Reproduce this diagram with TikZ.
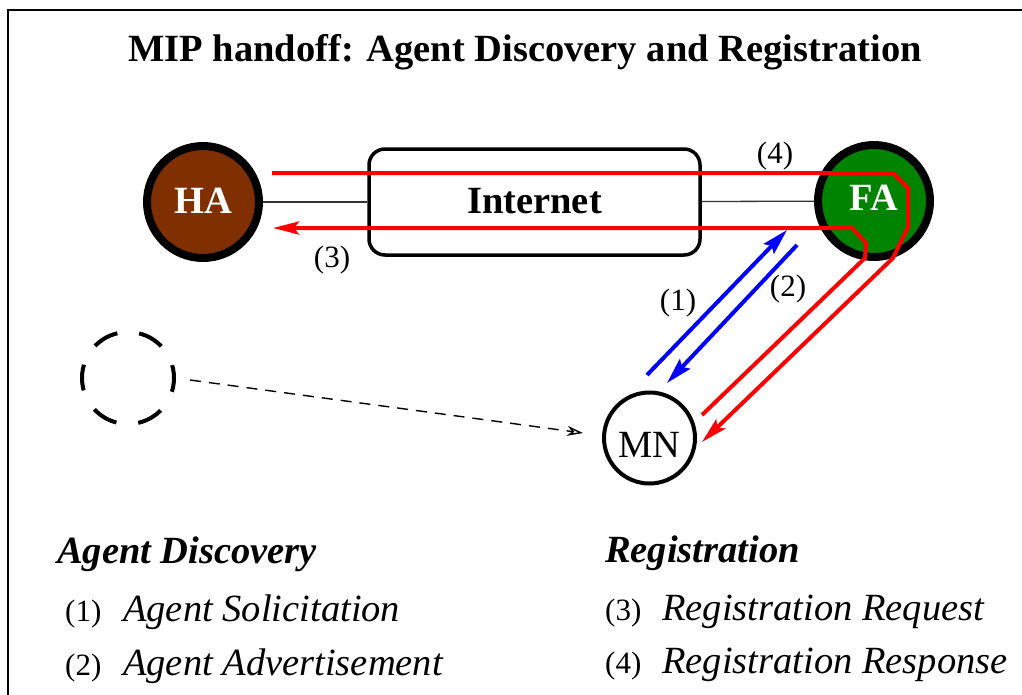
\documentclass[tikz,border=0pt]{standalone}
\usepackage{fontspec}
\setmainfont{Liberation Serif}
\usetikzlibrary{arrows.meta}
\definecolor{habrown}{RGB}{128,48,0}
\definecolor{fagreen}{RGB}{0,132,0}
\definecolor{msgred}{RGB}{255,0,0}
\definecolor{msgblue}{RGB}{0,0,255}
\newcommand{\bigsize}{\fontsize{38.5}{46}\selectfont}
\newcommand{\numsize}{\fontsize{31}{37}\selectfont}
\tikzset{
  agent/.style={circle, draw=black, line width=8pt, minimum size=112pt,
    inner sep=0pt, text=white, font=\bigsize\bfseries, text depth=0pt},
  netbox/.style={draw=black, line width=3.5pt, rounded corners=16pt,
    minimum width=331pt, minimum height=106pt, inner sep=0pt,
    font=\bigsize\bfseries, text depth=0pt},
  mobile/.style={circle, draw=black, line width=4pt, minimum size=91pt,
    inner sep=0pt, font=\bigsize, text depth=0pt},
  oldpos/.style={circle, draw=black, line width=4pt, minimum size=92pt,
    inner sep=0pt, dash pattern=on 26pt off 22pt, dash phase=13pt},
  link/.style={draw=black!80, line width=1.3pt},
  regmsg/.style={draw=msgred, line width=4pt,
    -{Stealth[length=26pt, width=13pt, inset=5pt]}},
  discmsg/.style={draw=msgblue, line width=4pt,
    -{Stealth[length=26pt, width=14pt, inset=4pt]}},
  movearrow/.style={draw=black, line width=1.4pt, dash pattern=on 11pt off 8pt,
    -{Stealth[open, length=16pt, width=10pt]}},
  msgnum/.style={anchor=base, inner sep=0pt, font=\numsize},
  heading/.style={anchor=base west, inner sep=0pt, font=\bigsize\bfseries\itshape},
  itemnum/.style={anchor=base west, inner sep=0pt, font=\numsize},
  itemtext/.style={anchor=base west, inner sep=0pt, font=\bigsize\itshape},
}
\begin{document}
\begin{tikzpicture}[x=1pt, y=-1pt]
  \useasboundingbox (0,0) rectangle (1022,694);
  \clip (0,0) rectangle (1022,694);
  % outer frame
  \draw[line width=2pt] (8,10) rectangle (1060,740);

  % title
  \node[anchor=base, inner sep=0pt, font=\bigsize\bfseries] (title) at (525,61)
    {MIP handoff: Agent Discovery and Registration};

  % agents, network and mobile node
  \node[agent, fill=habrown, text height=22pt] (HA) at (203,202) {HA};
  \node[agent, fill=fagreen, text height=18pt] (FA) at (874,201) {FA};
  \node[netbox, text height=22pt] (inet) at (534.5,202) {Internet};
  \node[mobile, text height=38pt] (MN) at (649.5,438) {MN};
  \node[oldpos] (old) at (128,378) {};

  % wired links
  \draw[link] (HA) -- (inet);
  \draw[link] (inet) -- (FA);

  % movement of the mobile node
  \coordinate (mvs) at (190,380);
  \coordinate (mve) at (583,433);
  \draw[movearrow] (mvs) -- (mve);

  % agent discovery: (1) solicitation, (2) advertisement
  \coordinate (s1a) at (647,375);
  \coordinate (s1b) at (787,230);
  \coordinate (s2a) at (797,245);
  \coordinate (s2b) at (667,383);
  \draw[discmsg] (s1a) -- (s1b);
  \draw[discmsg] (s2a) -- (s2b);

  % registration request (3): MN -> FA -> HA
  \coordinate (q0) at (702,415);
  \coordinate (q1) at (865,258);
  \coordinate (q2) at (866,243);
  \coordinate (q3) at (852,228);
  \coordinate (q4) at (273,228);
  \draw[regmsg] (q0) -- (q1) -- (q2) -- (q3) -- (q4);

  % registration response (4): HA -> FA -> MN
  \coordinate (p0) at (272,173);
  \coordinate (p1) at (893,173);
  \coordinate (p2) at (908,188);
  \coordinate (p3) at (908,227);
  \coordinate (p4) at (893,258);
  \coordinate (p5) at (702,442);
  \draw[regmsg] (p0) -- (p1) -- (p2) -- (p3) -- (p4) -- (p5);

  % message numbers
  \node[msgnum] (m4) at (775,163) {(4)};
  \node[msgnum] (m3) at (332,267) {(3)};
  \node[msgnum] (m1) at (678,310) {(1)};
  \node[msgnum] (m2) at (788,296) {(2)};

  % legend
  \node[heading] (adh) at (57,563) {Agent Discovery};
  \node[itemnum] (l1) at (65,621) {(1)};
  \node[itemtext] (t1) at (123,621) {Agent Solicitation};
  \node[itemnum] (l2) at (65,675) {(2)};
  \node[itemtext] (t2) at (123,675) {Agent Advertisement};

  \node[heading] (rgh) at (605,562) {Registration};
  \node[itemnum] (l3) at (605,620) {(3)};
  \node[itemtext] (t3) at (662,620) {Registration Request};
  \node[itemnum] (l4) at (605,673) {(4)};
  \node[itemtext] (t4) at (662,673) {Registration Response};
\end{tikzpicture}
\end{document}
